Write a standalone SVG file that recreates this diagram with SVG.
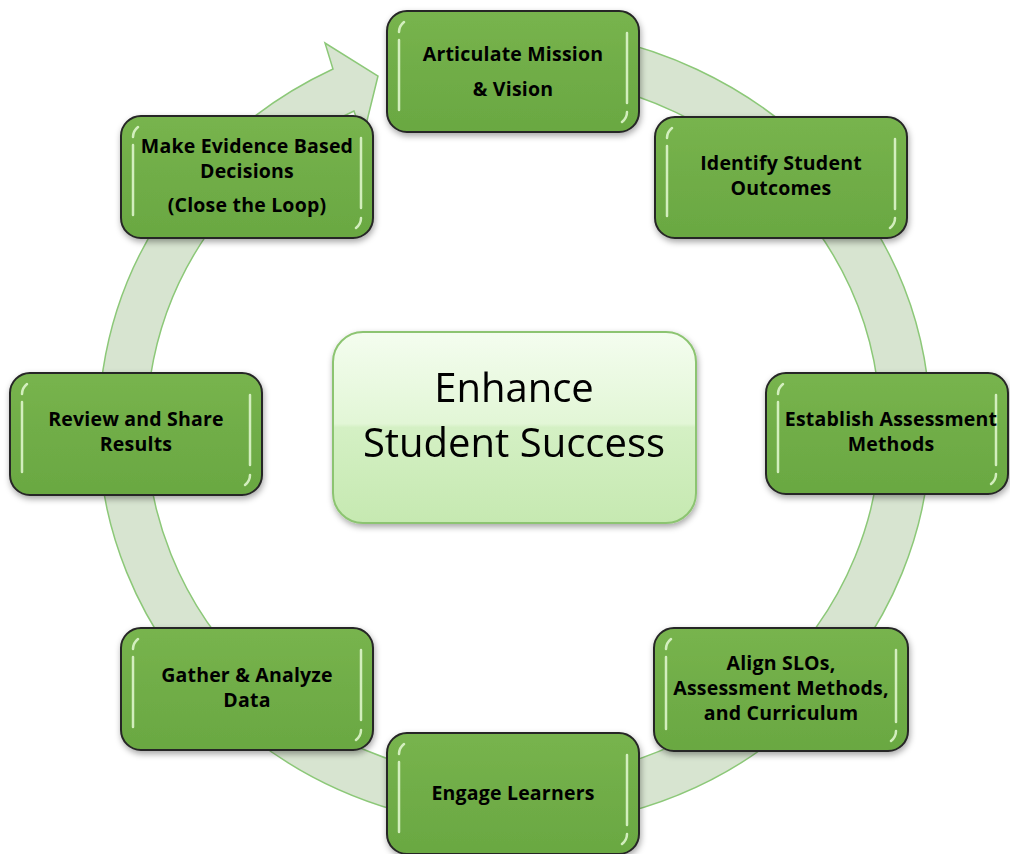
<svg xmlns="http://www.w3.org/2000/svg" width="1010" height="854" viewBox="0 0 1010 854">
<defs>
<style>
.box{fill:url(#gNode);stroke:#262626;stroke-width:2}
.hl{fill:none;stroke:#e4f9d2;stroke-width:2.5;stroke-linecap:round;opacity:0.85}
.t{font-family:"Open Sans",Lato,sans-serif;font-weight:bold;font-size:19.5px;letter-spacing:0.2px;fill:#000;text-anchor:middle}
.ct{font-family:"Open Sans",Lato,sans-serif;font-size:40px;fill:#000;text-anchor:middle}
</style>
<linearGradient id="gNode" x1="0" y1="0" x2="0" y2="1">
<stop offset="0" stop-color="#78b44e"/>
<stop offset="0.5" stop-color="#70ad47"/>
<stop offset="1" stop-color="#6aa842"/>
</linearGradient>
<linearGradient id="gCenter" x1="0" y1="0" x2="0" y2="1">
<stop offset="0" stop-color="#f4fdef"/>
<stop offset="0.48" stop-color="#e2f6d6"/>
<stop offset="0.5" stop-color="#d4f0c4"/>
<stop offset="1" stop-color="#c6e9b1"/>
</linearGradient>
<filter id="sh" x="-10%" y="-10%" width="130%" height="140%">
<feDropShadow dx="1" dy="3" stdDeviation="3" flood-color="#000" flood-opacity="0.35"/>
</filter>
</defs>

<g id="connectors">
<path d="M 514 29 A 416 399 0 1 1 333 69 L 325 43 L 378 76 L 363 137 L 354 111 A 367 352 0 1 0 514 76 Z" fill="#d7e4d0" stroke="#8cc878" stroke-width="1.5"/>
</g>

<g id="center" filter="url(#sh)">
<rect x="333" y="332" width="363" height="191" rx="30" fill="url(#gCenter)" stroke="#8cc471" stroke-width="2"/>
<text class="ct" x="514" y="402">Enhance</text>
<text class="ct" x="514" y="457">Student Success</text>
</g>

<g id="n1">
<rect class="box" filter="url(#sh)" x="387" y="11" width="252" height="121" rx="20"/>
<path class="hl" d="M399 40 V110 M627 33 V103 M404 22 Q399 26 399 32 M622 122 Q627 118 627 112"/>
<text class="t" x="513" y="61">Articulate Mission</text>
<text class="t" x="513" y="96">&amp; Vision</text>
</g>

<g id="n2">
<rect class="box" filter="url(#sh)" x="655" y="117" width="252" height="121" rx="20"/>
<path class="hl" d="M667 146 V216 M895 139 V209 M672 128 Q667 132 667 138 M890 228 Q895 224 895 218"/>
<text class="t" x="781" y="170">Identify Student</text>
<text class="t" x="781" y="195">Outcomes</text>
</g>

<g id="n3">
<rect class="box" filter="url(#sh)" x="766" y="373" width="242" height="121" rx="20"/>
<path class="hl" d="M778 402 V472 M996 395 V465 M783 384 Q778 388 778 394 M991 484 Q996 480 996 474"/>
<text class="t" x="891" y="426">Establish Assessment</text>
<text class="t" x="891" y="451">Methods</text>
</g>

<g id="n4">
<rect class="box" filter="url(#sh)" x="654" y="628" width="254" height="123" rx="20"/>
<path class="hl" d="M666 657 V729 M896 650 V722 M671 639 Q666 643 666 649 M891 741 Q896 737 896 731"/>
<text class="t" x="781" y="670">Align SLOs,</text>
<text class="t" x="781" y="695">Assessment Methods,</text>
<text class="t" x="781" y="720">and Curriculum</text>
</g>

<g id="n5">
<rect class="box" filter="url(#sh)" x="387" y="733" width="252" height="121" rx="20"/>
<path class="hl" d="M399 762 V832 M627 755 V825 M404 744 Q399 748 399 754 M622 844 Q627 840 627 834"/>
<text class="t" x="513" y="800">Engage Learners</text>
</g>

<g id="n6">
<rect class="box" filter="url(#sh)" x="121" y="628" width="252" height="122" rx="20"/>
<path class="hl" d="M133 657 V727 M361 650 V720 M138 639 Q133 643 133 649 M356 740 Q361 736 361 730"/>
<text class="t" x="247" y="682">Gather &amp; Analyze</text>
<text class="t" x="247" y="707">Data</text>
</g>

<g id="n7">
<rect class="box" filter="url(#sh)" x="10" y="373" width="252" height="122" rx="20"/>
<path class="hl" d="M22 402 V472 M250 395 V465 M27 384 Q22 388 22 394 M245 485 Q250 481 250 475"/>
<text class="t" x="136" y="426">Review and Share</text>
<text class="t" x="136" y="451">Results</text>
</g>

<g id="n8">
<rect class="box" filter="url(#sh)" x="121" y="116" width="252" height="122" rx="20"/>
<path class="hl" d="M133 145 V215 M361 138 V208 M138 127 Q133 131 133 137 M356 228 Q361 224 361 218"/>
<text class="t" x="247" y="153">Make Evidence Based</text>
<text class="t" x="247" y="178">Decisions</text>
<text class="t" x="247" y="212">(Close the Loop)</text>
</g>
</svg>
